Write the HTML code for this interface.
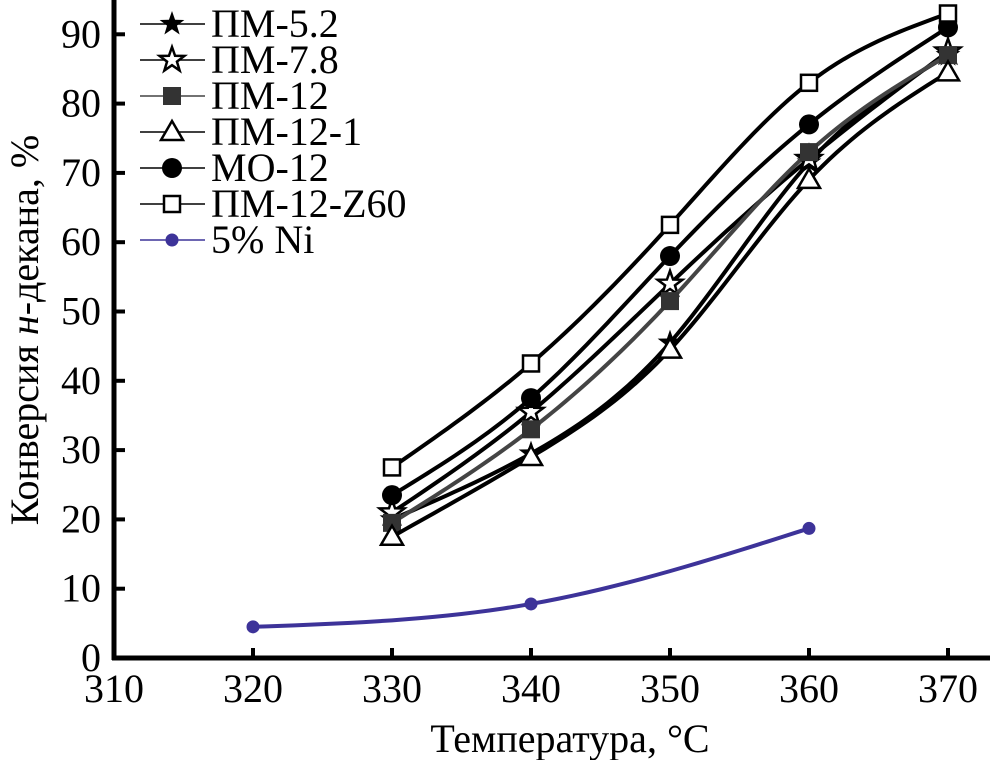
<!DOCTYPE html>
<html><head><meta charset="utf-8"><style>
html,body{margin:0;padding:0;background:#fff;}
svg{display:block;}
text{font-family:"Liberation Serif","Times New Roman",serif;}
</style></head><body>
<svg id="chart" width="999" height="760" viewBox="0 0 999 760">
<g id="axes"></g>
<g id="series"></g>
<g id="legend"></g>
<text x="570" y="752" font-family="Liberation Serif, serif" font-size="40" text-anchor="middle">Температура, °C</text>
<text transform="translate(38,330) rotate(-90)" font-family="Liberation Serif, serif" font-size="40" text-anchor="middle">Конверсия <tspan font-style="italic">н</tspan>-декана, %</text>
</svg>
<script>
const xTicks = [310,320,330,340,350,360,370];
const yTicks = [0,10,20,30,40,50,60,70,80,90];
const temps = [330,340,350,360,370];
const pm52 = [20,29.5,45.5,71.5,87];
const pm78 = [21,35.5,54,72,87.5];
const pm12 = [19.5,33,51.5,73,87];
const pm121 = [17.5,29,44.5,69,84.5];
const mo12 = [23.5,37.5,58,77,91];
const z60 = [27.5,42.5,62.5,83,93];
const niTemps = [320,340,360];
const ni = [4.5,7.8,18.7];
const names = ["ПМ-5.2","ПМ-7.8","ПМ-12","ПМ-12-1","МО-12","ПМ-12-Z60","5% Ni"];

const NS="http://www.w3.org/2000/svg";
const FF="Liberation Serif, serif";
const X=v=>114+(v-310)*13.9;
const Y=v=>658-v*6.93;
function mk(t,a,p){const e=document.createElementNS(NS,t);for(const k in a)e.setAttribute(k,a[k]);p.appendChild(e);return e;}
const axes=document.getElementById('axes');
let l=mk('line',{x1:114,y1:0,x2:114,y2:660,stroke:'#000','stroke-width':5},axes);


l=mk('line',{x1:112,y1:658,x2:990,y2:658,stroke:'#000','stroke-width':5},axes);


xTicks.forEach(v=>{
  if(v>310){const t=mk('line',{x1:X(v),y1:658,x2:X(v),y2:648,stroke:'#000','stroke-width':4},axes);
  
  }
  const tx=mk('text',{x:X(v),y:702,'font-size':40,'font-family':FF,'text-anchor':'middle'},axes);tx.textContent=v;
  
  
});
yTicks.forEach(v=>{
  if(v>0){const t=mk('line',{x1:114,y1:Y(v),x2:125,y2:Y(v),stroke:'#000','stroke-width':4},axes);
  
  }
  const tx=mk('text',{x:101,y:Y(v)+13,'font-size':40,'font-family':FF,'text-anchor':'end'},axes);tx.textContent=v;
  
  
});
// natural cubic spline in data space, sampled
function path(xs,ys){
  const n=xs.length;
  if(n<3){return `M${X(xs[0])},${Y(ys[0])} L${X(xs[1])},${Y(ys[1])}`;}
  const h=[],al=[],lo=[1],mu=[0],z=[0],c=new Array(n).fill(0),b=[],d=[];
  for(let i=0;i<n-1;i++)h[i]=xs[i+1]-xs[i];
  for(let i=1;i<n-1;i++)al[i]=3/h[i]*(ys[i+1]-ys[i])-3/h[i-1]*(ys[i]-ys[i-1]);
  for(let i=1;i<n-1;i++){lo[i]=2*(xs[i+1]-xs[i-1])-h[i-1]*mu[i-1];mu[i]=h[i]/lo[i];z[i]=(al[i]-h[i-1]*z[i-1])/lo[i];}
  for(let j=n-2;j>=0;j--){c[j]=(j>0?z[j]-mu[j]*c[j+1]:0);b[j]=(ys[j+1]-ys[j])/h[j]-h[j]*(c[j+1]+2*c[j])/3;d[j]=(c[j+1]-c[j])/(3*h[j]);}
  let s=`M${X(xs[0])},${Y(ys[0])}`;
  for(let j=0;j<n-1;j++){
    for(let k=1;k<=20;k++){const t=h[j]*k/20;const v=ys[j]+b[j]*t+c[j]*t*t+d[j]*t*t*t;s+=` L${X(xs[j]+t)},${Y(v)}`;}
  }
  return s;
}
function star(cx,cy,r){let s='';for(let i=0;i<10;i++){const a=-Math.PI/2+i*Math.PI/5,rr=i%2?r*0.4:r;s+=(cx+rr*Math.cos(a))+','+(cy+rr*Math.sin(a))+' ';}return s;}
function marker(type,cx,cy,g,scale){
  const s=scale||1;let e;
  if(type=='fstar')e=mk('polygon',{points:star(cx,cy,13*s),fill:'#000'},g);
  else if(type=='ostar')e=mk('polygon',{points:star(cx,cy,13*s),fill:'#fff',stroke:'#000','stroke-width':2.5},g);
  else if(type=='sq')e=mk('rect',{x:cx-9*s,y:cy-9*s,width:18*s,height:18*s,fill:'#333'},g);
  else if(type=='tri')e=mk('polygon',{points:`${cx},${cy-11*s} ${cx+11*s},${cy+8*s} ${cx-11*s},${cy+8*s}`,fill:'#fff',stroke:'#000','stroke-width':2.5},g);
  else if(type=='circ')e=mk('circle',{cx,cy,r:10*s,fill:'#000'},g);
  else if(type=='osq')e=mk('rect',{x:cx-8*s,y:cy-8*s,width:16*s,height:16*s,fill:'#fff',stroke:'#000','stroke-width':2.5},g);
  else e=mk('circle',{cx,cy,r:6.5*s,fill:'#3d3399'},g);
  return e;
}
const sg=document.getElementById('series');
const defs=[
 {xs:temps,ys:pm52,type:'fstar',color:'#000'},
 {xs:temps,ys:pm78,type:'ostar',color:'#000'},
 {xs:temps,ys:pm12,type:'sq',color:'#444'},
 {xs:temps,ys:pm121,type:'tri',color:'#000'},
 {xs:temps,ys:mo12,type:'circ',color:'#000'},
 {xs:temps,ys:z60,type:'osq',color:'#000'},
 {xs:niTemps,ys:ni,type:'ni',color:'#3d3399'}
];
defs.forEach((d,k)=>{
  const g=mk('g',{},sg);
  
  
  const p=mk('path',{d:path(d.xs,d.ys),fill:'none',stroke:d.color,'stroke-width':4,'stroke-linejoin':'round'},g);
  
  
  d.xs.forEach((x,i)=>{
    const m=marker(d.type,X(x),Y(d.ys[i]),g);
    
    
  });
});
const lg=document.getElementById('legend');
defs.forEach((d,k)=>{
  const y=24+36*k;
  const g=mk('g',{},lg);
  
  
  mk('line',{x1:140,y1:y,x2:205,y2:y,stroke:d.color,'stroke-width':1.5},g);
  marker(d.type,172,y,g,1);
  const t=mk('text',{x:211,y:y+13,'font-size':40,'font-family':FF},g);t.textContent=names[k];
});
</script>
</body></html>
